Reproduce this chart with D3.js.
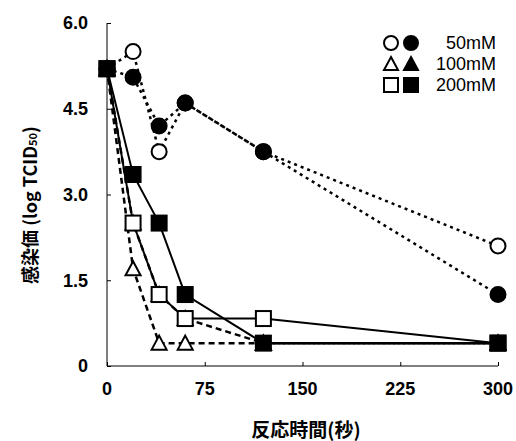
<!DOCTYPE html>
<html>
<head>
<meta charset="utf-8">
<script src="https://cdn.jsdelivr.net/npm/d3@7"></script>
<style>
  body { margin: 0; background: #fff; }
  svg { display: block; }
</style>
</head>
<body>
<svg id="chart" width="516" height="441"></svg>
<script>
// ---- data ----
const times = [0, 20, 40, 60, 120, 300];
const open50 = [5.2, 5.5, 3.75, 4.6, 3.75, 2.1];
const fill50 = [5.2, 5.05, 4.2, 4.6, 3.75, 1.25];
const open100 = [5.2, 1.7, 0.4, 0.4, 0.4, 0.4];
const fill100 = [5.2, 2.5, 1.25, 0.83, 0.4, 0.4];
const open200 = [5.2, 2.5, 1.25, 0.83, 0.83, 0.4];
const fill200 = [5.2, 3.35, 2.5, 1.25, 0.4, 0.4];
const xTicks = [0, 75, 150, 225, 300];
const yTicks = [0, 1.5, 3.0, 4.5, 6.0];
const legendLabels = ["50mM", "100mM", "200mM"];

const series = [
  { values: open50, shape: "circle", filled: false, dash: "3,4" },
  { values: fill50, shape: "circle", filled: true, dash: "3,4" },
  { values: open100, shape: "triangle", filled: false, dash: "6,4" },
  { values: fill100, shape: "triangle", filled: true, dash: "6,4" },
  { values: open200, shape: "square", filled: false, dash: null },
  { values: fill200, shape: "square", filled: true, dash: null }
];

const svg = d3.select("#chart");
const plotLeft = 107, plotRight = 498, plotTop = 23, plotBottom = 366;

const x = d3.scaleLinear().domain([0, 300]).range([plotLeft, plotRight]);
const y = d3.scaleLinear().domain([0, 6]).range([plotBottom, plotTop]);

// axes
const numFont = "'Liberation Sans', Arial, sans-serif";
const yAxis = svg.append("g")
  .attr("transform", `translate(${plotLeft},0)`)
  .call(d3.axisRight(y).tickValues(yTicks).tickSize(4).tickFormat(() => ""));
const xAxis = svg.append("g")
  .attr("transform", `translate(0,${plotBottom})`)
  .call(d3.axisTop(x).tickValues(xTicks).tickSize(4).tickFormat(() => ""));
[xAxis, yAxis].forEach(a => {
  a.select(".domain").attr("stroke", "#000").attr("stroke-width", 1);
  a.selectAll(".tick line").attr("stroke", "#000");
});
yAxis.select(".domain").attr("d", `M0,${plotTop}V${plotBottom}`);
xAxis.select(".domain").attr("d", `M${plotLeft},0H${plotRight}`);

svg.append("g").selectAll("text")
  .data(yTicks)
  .enter().append("text")
  .attr("x", 88)
  .attr("y", d => y(d))
  .attr("dy", "0.36em")
  .attr("text-anchor", "end")
  .style("font-family", numFont)
  .style("font-weight", "bold")
  .style("font-size", "18px")
  .text(d => d === 0 ? "0" : d.toFixed(1));

svg.append("g").selectAll("text")
  .data(xTicks)
  .enter().append("text")
  .attr("x", d => x(d))
  .attr("y", 395)
  .attr("text-anchor", "middle")
  .style("font-family", numFont)
  .style("font-weight", "bold")
  .style("font-size", "18px")
  .text(d => d);

// axis titles
const jpFont = "'Noto Sans CJK JP', 'Noto Sans', sans-serif";
svg.append("text")
  .attr("x", 306)
  .attr("y", 437)
  .attr("text-anchor", "middle")
  .style("font-family", jpFont)
  .style("font-weight", "bold")
  .style("font-size", "19px")
  .text("反応時間(秒)");

const yTitle = svg.append("text")
  .attr("transform", "translate(37,205) rotate(-90)")
  .attr("text-anchor", "middle")
  .style("font-family", jpFont)
  .style("font-weight", "bold")
  .style("font-size", "18px");
yTitle.append("tspan").text("感染価 (log TCID");
yTitle.append("tspan").style("font-size", "11px").text("50");
yTitle.append("tspan").text(")");

// markers
function marker(g, shape, filled, size) {
  const fill = filled ? "#000" : "#fff";
  const h = size / 2;
  if (shape === "circle") {
    g.append("circle").attr("r", h - 1)
      .attr("fill", fill).attr("stroke", "#000").attr("stroke-width", 2);
  } else if (shape === "square") {
    g.append("rect").attr("x", -h + 1).attr("y", -h + 1)
      .attr("width", size - 2).attr("height", size - 2)
      .attr("fill", fill).attr("stroke", "#000").attr("stroke-width", 2);
  } else {
    g.append("path")
      .attr("d", `M0,${-h + 1}L${h - 1},${h - 2}L${-h + 1},${h - 2}Z`)
      .attr("fill", fill).attr("stroke", "#000").attr("stroke-width", 2)
      .attr("stroke-linejoin", "miter");
  }
}

const line = d3.line()
  .x((d, i) => x(times[i]))
  .y(d => y(d));

series.forEach(s => {
  svg.append("path")
    .attr("d", line(s.values))
    .attr("fill", "none")
    .attr("stroke", "#000")
    .attr("stroke-width", s.dash ? 2.5 : 2)
    .attr("stroke-dasharray", s.dash);
});

series.forEach(s => {
  s.values.forEach((v, i) => {
    const g = svg.append("g").attr("transform", `translate(${x(times[i])},${y(v)})`);
    marker(g, s.shape, s.filled, 17);
  });
});

// legend
const legend = svg.append("g");
const shapes = ["circle", "triangle", "square"];
legendLabels.forEach((lab, i) => {
  const ly = 43 + i * 21;
  marker(legend.append("g").attr("transform", `translate(391,${ly})`), shapes[i], false, 16);
  marker(legend.append("g").attr("transform", `translate(411,${ly})`), shapes[i], true, 16);
  legend.append("text")
    .attr("x", 496)
    .attr("y", ly)
    .attr("dy", "0.36em")
    .attr("text-anchor", "end")
    .style("font-family", numFont)
    .style("font-size", "18px")
    .text(lab);
});
</script>
</body>
</html>
